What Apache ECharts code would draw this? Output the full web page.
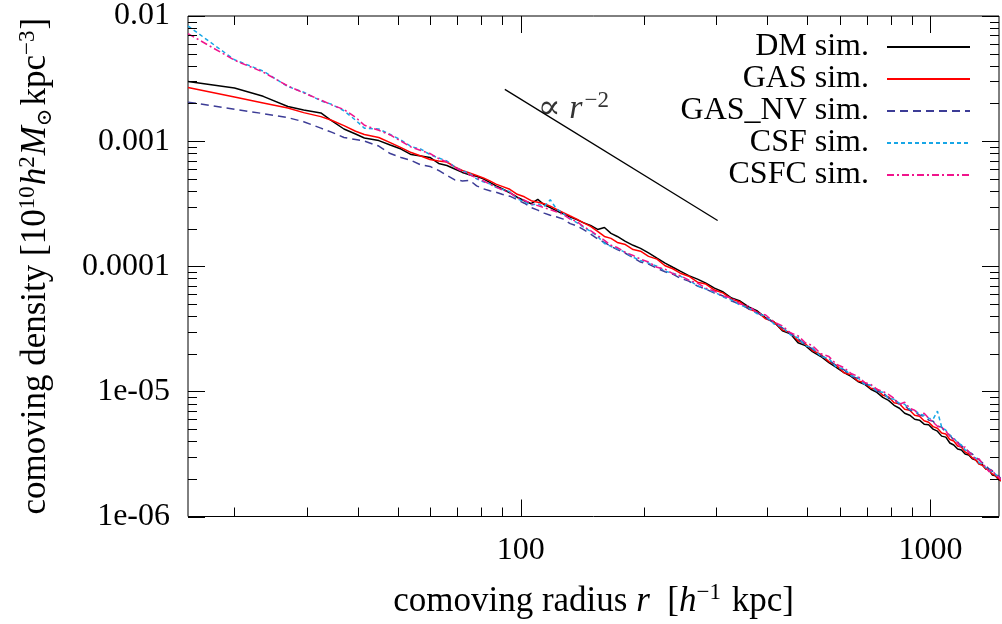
<!DOCTYPE html>
<html><head><meta charset="utf-8">
<script src="https://cdn.jsdelivr.net/npm/echarts@6/dist/echarts.min.js"></script>
<style>html,body{margin:0;padding:0;background:#fff}#c{width:1002px;height:624px}</style>
</head><body><div id="c"></div>
<script>
// comoving radius r [h^-1 kpc] (shared bins)
const radius = [15.4,20,23.5,27,29.5,32.5,34.5,37,39.5,41.5,45,48,51,54,57,60,63,66,69,72,75,78,81,84,87,90,94,98,102,106,110,114,118,122,127,132,137,142,148,154,160,166,172,180,188,196,205,215,225,235,245,257,270,283,297,312,327,343,360,378,396,415,435,455,475,495,515,540,565,590,615,640,665,690,715,740,765,790,815,840,865,890,915,940,965,990,1015,1040,1065,1090,1115,1140,1165,1190,1215,1240,1265,1290,1315,1340,1365,1390,1415,1440,1465,1490];

const dmSim = [2.99e-3,2.66e-3,2.28e-3,1.89e-3,1.77e-3,1.68e-3,1.46e-3,1.25e-3,1.14e-3,1.06e-3,
1.01e-3,9.30e-4,8.64e-4,7.81e-4,7.60e-4,7.40e-4,6.63e-4,6.39e-4,5.99e-4,5.62e-4,
5.37e-4,5.23e-4,4.99e-4,4.68e-4,4.39e-4,4.16e-4,3.87e-4,3.56e-4,3.34e-4,3.16e-4,
3.42e-4,3.10e-4,2.94e-4,2.78e-4,2.63e-4,2.47e-4,2.36e-4,2.23e-4,2.12e-4,1.97e-4,
2.04e-4,1.83e-4,1.73e-4,1.58e-4,1.47e-4,1.39e-4,1.28e-4,1.16e-4,1.06e-4,9.82e-5,
9.13e-5,8.41e-5,7.89e-5,7.33e-5,6.69e-5,6.22e-5,5.57e-5,5.27e-5,4.73e-5,4.39e-5,
3.87e-5,3.59e-5,3.05e-5,2.89e-5,2.45e-5,2.32e-5,2.08e-5,1.90e-5,1.70e-5,1.55e-5,
1.41e-5,1.32e-5,1.20e-5,1.14e-5,1.04e-5,9.82e-6,8.96e-6,8.48e-6,7.74e-6,7.33e-6,
6.69e-6,6.45e-6,5.99e-6,5.89e-6,5.47e-6,5.42e-6,4.99e-6,4.81e-6,4.39e-6,4.31e-6,
3.87e-6,3.73e-6,3.46e-6,3.40e-6,3.16e-6,3.10e-6,2.89e-6,2.83e-6,2.63e-6,2.59e-6,
2.40e-6,2.36e-6,2.15e-6,2.12e-6,1.97e-6,1.93e-6];

const gasSim = [2.68e-3,2.25e-3,2.02e-3,1.84e-3,1.69e-3,1.57e-3,1.47e-3,1.33e-3,1.20e-3,1.13e-3,
1.07e-3,9.73e-4,8.88e-4,8.10e-4,7.60e-4,7.13e-4,6.94e-4,6.81e-4,6.22e-4,5.83e-4,
5.57e-4,5.32e-4,5.08e-4,4.81e-4,4.53e-4,4.35e-4,4.12e-4,3.76e-4,3.59e-4,3.34e-4,
3.25e-4,3.16e-4,3.02e-4,2.86e-4,2.68e-4,2.52e-4,2.38e-4,2.23e-4,2.08e-4,1.90e-4,
1.73e-4,1.67e-4,1.55e-4,1.49e-4,1.36e-4,1.32e-4,1.20e-4,1.14e-4,1.01e-4,9.55e-5,
8.80e-5,8.33e-5,7.46e-5,7.20e-5,6.45e-5,6.10e-5,5.47e-5,5.18e-5,4.56e-5,4.31e-5,
3.80e-5,3.59e-5,3.10e-5,2.94e-5,2.54e-5,2.40e-5,2.12e-5,1.97e-5,1.73e-5,1.61e-5,
1.41e-5,1.36e-5,1.21e-5,1.18e-5,1.06e-5,1.04e-5,9.30e-6,9.04e-6,8.10e-6,7.96e-6,
7.20e-6,7.07e-6,6.45e-6,6.33e-6,5.83e-6,5.67e-6,5.23e-6,5.08e-6,4.64e-6,4.56e-6,
4.12e-6,4.01e-6,3.66e-6,3.59e-6,3.28e-6,3.16e-6,2.94e-6,2.83e-6,2.63e-6,2.56e-6,
2.40e-6,2.34e-6,2.19e-6,2.13e-6,2.00e-6,1.93e-6];

const gasNvSim = [2.05e-3,1.80e-3,1.66e-3,1.54e-3,1.43e-3,1.27e-3,1.18e-3,1.07e-3,1.03e-3,1.00e-3,
9.13e-4,7.96e-4,7.40e-4,7.00e-4,6.45e-4,6.28e-4,5.83e-4,5.32e-4,4.90e-4,4.81e-4,
4.86e-4,4.39e-4,4.16e-4,4.01e-4,3.90e-4,3.76e-4,3.63e-4,3.40e-4,3.19e-4,2.94e-4,
2.81e-4,2.66e-4,2.56e-4,2.49e-4,2.38e-4,2.19e-4,2.10e-4,1.97e-4,1.81e-4,1.65e-4,
1.55e-4,1.44e-4,1.36e-4,1.27e-4,1.17e-4,1.08e-4,1.04e-4,9.64e-5,9.04e-5,8.64e-5,
8.03e-5,7.60e-5,6.94e-5,6.57e-5,6.10e-5,5.78e-5,5.27e-5,4.99e-5,4.56e-5,4.24e-5,
3.87e-5,3.53e-5,3.22e-5,2.89e-5,2.63e-5,2.36e-5,2.19e-5,1.93e-5,1.79e-5,1.58e-5,
1.49e-5,1.32e-5,1.27e-5,1.14e-5,1.12e-5,1.00e-5,9.82e-6,8.80e-6,8.64e-6,7.89e-6,
7.74e-6,7.07e-6,6.94e-6,6.45e-6,6.33e-6,5.89e-6,5.78e-6,5.27e-6,5.18e-6,4.64e-6,
4.47e-6,4.08e-6,3.94e-6,3.66e-6,3.53e-6,3.28e-6,3.16e-6,2.99e-6,2.83e-6,2.68e-6,
2.54e-6,2.40e-6,2.32e-6,2.15e-6,2.12e-6,1.97e-6];

const csfSim = [8.33e-3,4.47e-3,3.63e-3,2.73e-3,2.46e-3,2.10e-3,1.97e-3,1.75e-3,1.47e-3,1.27e-3,
1.25e-3,1.13e-3,1.02e-3,9.04e-4,8.64e-4,7.81e-4,7.33e-4,6.94e-4,6.22e-4,5.78e-4,
5.52e-4,4.99e-4,4.73e-4,4.56e-4,4.27e-4,4.12e-4,3.94e-4,3.46e-4,3.28e-4,3.08e-4,
3.16e-4,2.99e-4,3.40e-4,2.89e-4,2.63e-4,2.40e-4,2.23e-4,2.06e-4,1.90e-4,1.73e-4,
1.52e-4,1.44e-4,1.38e-4,1.29e-4,1.18e-4,1.11e-4,1.06e-4,1.00e-4,9.13e-5,8.80e-5,
8.33e-5,7.74e-5,7.00e-5,6.57e-5,6.22e-5,5.67e-5,5.37e-5,4.90e-5,4.64e-5,4.16e-5,
4.01e-5,3.46e-5,3.28e-5,2.83e-5,2.68e-5,2.32e-5,2.23e-5,1.90e-5,1.83e-5,1.55e-5,
1.52e-5,1.34e-5,1.29e-5,1.14e-5,1.12e-5,1.00e-5,9.82e-6,8.80e-6,8.64e-6,8.03e-6,
7.89e-6,7.20e-6,7.07e-6,6.57e-6,6.45e-6,6.10e-6,5.99e-6,6.94e-6,5.18e-6,4.90e-6,
4.47e-6,4.24e-6,3.87e-6,3.73e-6,3.40e-6,3.34e-6,2.99e-6,2.94e-6,2.68e-6,2.63e-6,
2.45e-6,2.40e-6,2.23e-6,2.19e-6,2.04e-6,2.00e-6];

const csfcSim = [7.24e-3,4.43e-3,3.56e-3,2.76e-3,2.43e-3,2.13e-3,1.95e-3,1.79e-3,1.55e-3,1.34e-3,
1.22e-3,1.12e-3,1.00e-3,8.96e-4,8.41e-4,7.96e-4,7.26e-4,6.81e-4,6.16e-4,5.73e-4,
5.37e-4,5.08e-4,4.81e-4,4.52e-4,4.31e-4,4.08e-4,3.87e-4,3.53e-4,3.37e-4,3.16e-4,
3.05e-4,2.94e-4,2.83e-4,2.73e-4,2.59e-4,2.38e-4,2.28e-4,2.08e-4,1.93e-4,1.76e-4,
1.61e-4,1.47e-4,1.41e-4,1.29e-4,1.22e-4,1.14e-4,1.08e-4,9.82e-5,9.47e-5,8.72e-5,
8.41e-5,7.74e-5,7.33e-5,6.69e-5,6.33e-5,5.78e-5,5.57e-5,4.99e-5,4.81e-5,4.24e-5,
4.08e-5,3.59e-5,3.34e-5,2.94e-5,2.78e-5,2.45e-5,2.32e-5,2.00e-5,1.90e-5,1.64e-5,
1.55e-5,1.39e-5,1.32e-5,1.18e-5,1.14e-5,1.04e-5,1.00e-5,9.47e-6,8.80e-6,7.89e-6,
8.18e-6,7.33e-6,7.07e-6,6.45e-6,6.69e-6,6.10e-6,5.67e-6,5.27e-6,5.18e-6,4.81e-6,
4.39e-6,4.16e-6,3.87e-6,3.53e-6,3.59e-6,3.28e-6,3.10e-6,2.83e-6,2.89e-6,2.63e-6,
2.49e-6,2.28e-6,2.36e-6,2.15e-6,2.08e-6,1.97e-6];

// reference power-law segment (proportional to r^-2)
const slopeR = [91.4, 302.3];
const slopeRho = [2.59e-3, 2.32e-4];
const annotR = [110];
const annotRho = [1.80e-3];

const seriesNames = ['DM sim.', 'GAS sim.', 'GAS_NV sim.', 'CSF sim.', 'CSFC sim.'];

// axes
const xMin = 15.4, xMax = 1470, yMin = 1e-6, yMax = 1e-2;
const xMajorTicks = [100, 1000];
const xTickText = ['100', '1000'];
const xMinorTicks = [20,30,40,50,60,70,80,90,200,300,400,500,600,700,800,900];
const yMajorTicks = [1e-6, 1e-5, 1e-4, 1e-3, 1e-2];
const yTickText = ['1e-06', '1e-05', '0.0001', '0.001', '0.01'];
const yMinorTicks = [2e-6,3e-6,4e-6,5e-6,6e-6,7e-6,8e-6,9e-6,2e-5,3e-5,4e-5,5e-5,6e-5,7e-5,8e-5,9e-5,
  2e-4,3e-4,4e-4,5e-4,6e-4,7e-4,8e-4,9e-4,2e-3,3e-3,4e-3,5e-3,6e-3,7e-3,8e-3,9e-3];

const FONT = '"Liberation Serif", "DejaVu Serif", serif';
const zip = (a, b) => a.map((v, i) => [v, b[i]]);

function xTickSeries(vals, len) {
  return {
    type: 'custom', coordinateSystem: 'cartesian2d', silent: true, z: 5,
    data: vals.map(v => [v, yMin]),
    renderItem: (params, api) => {
      const v = api.value(0);
      const b = api.coord([v, yMin]), t = api.coord([v, yMax]);
      const x = Math.round(b[0]) + 0.5;
      return { type: 'group', children: [
        { type: 'line', shape: { x1: x, y1: b[1], x2: x, y2: b[1] - len }, style: { stroke: '#000', lineWidth: 1 } },
        { type: 'line', shape: { x1: x, y1: t[1], x2: x, y2: t[1] + len }, style: { stroke: '#000', lineWidth: 1 } }
      ]};
    }
  };
}
function yTickSeries(vals, len) {
  return {
    type: 'custom', coordinateSystem: 'cartesian2d', silent: true, z: 5,
    data: vals.map(v => [xMin, v]),
    renderItem: (params, api) => {
      const v = api.value(1);
      const l = api.coord([xMin, v]), r = api.coord([xMax, v]);
      const y = Math.round(l[1]) + 0.5;
      return { type: 'group', children: [
        { type: 'line', shape: { x1: l[0], y1: y, x2: l[0] + len, y2: y }, style: { stroke: '#000', lineWidth: 1 } },
        { type: 'line', shape: { x1: r[0], y1: y, x2: r[0] - len, y2: y }, style: { stroke: '#000', lineWidth: 1 } }
      ]};
    }
  };
}

function simSeries(name, data, color, type) {
  return {
    name: name, type: 'line', data: zip(radius, data), symbol: 'none', showSymbol: false,
    lineStyle: { color: color, width: 1.5, type: type }, itemStyle: { color: color },
    clip: true, z: 3, animation: false
  };
}

const chart = echarts.init(document.getElementById('c'), null, { renderer: 'canvas' });
chart.setOption({
  animation: false,
  backgroundColor: '#fff',
  grid: { left: 188, right: 2, top: 14, bottom: 106, show: true, borderColor: '#000', borderWidth: 1, backgroundColor: 'transparent' },
  xAxis: {
    type: 'log', logBase: 10, min: xMin, max: xMax,
    axisLine: { show: false }, axisTick: { show: false }, splitLine: { show: false }, minorTick: { show: false },
    axisLabel: {
      color: '#000', fontFamily: FONT, fontSize: 32, margin: 18,
      formatter: v => { const i = xMajorTicks.findIndex(t => Math.abs(Math.log10(v) - Math.log10(t)) < 1e-6); return i < 0 ? '' : xTickText[i]; }
    },
    name: '{t|comoving radius }{i|r}{t|  [}{i|h}{s|−1}{t| kpc]}',
    nameLocation: 'middle', nameGap: 63,
    nameTextStyle: {
      rich: {
        t: { fontFamily: FONT, fontSize: 35, color: '#000', lineHeight: 44 },
        i: { fontFamily: FONT, fontSize: 35, fontStyle: 'italic', color: '#000', lineHeight: 44 },
        s: { fontFamily: FONT, fontSize: 23, color: '#000', lineHeight: 44, verticalAlign: 'top', padding: [2, 2, 0, 0] }
      }
    }
  },
  yAxis: {
    type: 'log', logBase: 10, min: yMin, max: yMax,
    axisLine: { show: false }, axisTick: { show: false }, splitLine: { show: false }, minorTick: { show: false },
    axisLabel: {
      color: '#000', fontFamily: FONT, fontSize: 32, margin: 18,
      formatter: v => { const i = yMajorTicks.findIndex(t => Math.abs(Math.log10(v) - Math.log10(t)) < 1e-6); return i < 0 ? '' : yTickText[i]; }
    },
    name: '{t|comoving density [10}{s|10}{i|h}{s|2}{i|M}{b|⊙}{t|kpc}{s|−3}{t|]}',
    nameLocation: 'middle', nameGap: 130, nameRotate: 90,
    nameTextStyle: {
      rich: {
        t: { fontFamily: FONT, fontSize: 35, color: '#000', lineHeight: 44 },
        i: { fontFamily: FONT, fontSize: 35, fontStyle: 'italic', color: '#000', lineHeight: 44 },
        s: { fontFamily: FONT, fontSize: 23, color: '#000', lineHeight: 44, verticalAlign: 'top', padding: [2, 1, 0, 0] },
        b: { fontFamily: FONT, fontSize: 21, color: '#000', lineHeight: 44, verticalAlign: 'bottom', padding: [0, 3, 2, 0] }
      }
    }
  },
  legend: {
    data: seriesNames, orient: 'vertical', align: 'right', right: 31, top: 31, padding: 0,
    itemWidth: 83, itemHeight: 14, itemGap: 0,
    itemStyle: { opacity: 0 },
    textStyle: { fontFamily: FONT, fontSize: 32, color: '#000', lineHeight: 32, padding: [0, 13, 0, 0] }
  },
  series: [
    simSeries(seriesNames[0], dmSim, '#000000', 'solid'),
    simSeries(seriesNames[1], gasSim, '#ff0000', 'solid'),
    simSeries(seriesNames[2], gasNvSim, '#3c3c96', [8, 5]),
    simSeries(seriesNames[3], csfSim, '#17a6e6', [4, 3]),
    simSeries(seriesNames[4], csfcSim, '#f0148c', [7, 3, 2, 3]),
    {
      name: 'slope', type: 'line', data: zip(slopeR, slopeRho), symbol: 'none',
      lineStyle: { color: '#000', width: 1.3 }, z: 4, silent: true
    },
    {
      name: 'slopeLabel', type: 'scatter', data: zip(annotR, annotRho), symbolSize: 0, silent: true, z: 6,
      label: {
        show: true, position: 'right', distance: 0,
        formatter: '{a|∝ }{i|r}{s|−2}',
        rich: {
          a: { fontFamily: FONT, fontSize: 34, color: '#000', lineHeight: 42 },
          i: { fontFamily: FONT, fontSize: 34, fontStyle: 'italic', color: '#000', lineHeight: 42 },
          s: { fontFamily: FONT, fontSize: 23, color: '#000', lineHeight: 42, verticalAlign: 'top', padding: [1, 0, 0, 2] }
        }
      }
    },
    xTickSeries(xMajorTicks, 17),
    xTickSeries(xMinorTicks, 9),
    yTickSeries(yMajorTicks, 17),
    yTickSeries(yMinorTicks, 9)
  ]
});
</script>
</body></html>
